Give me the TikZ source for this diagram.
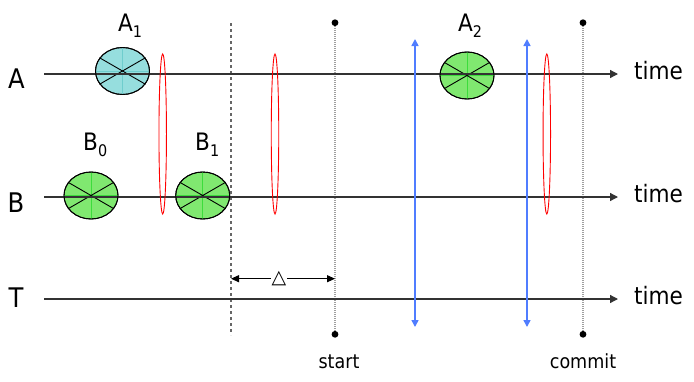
\documentclass[tikz,border=0pt]{standalone}
\usepackage{fontspec}
\setmainfont{DejaVu Sans Condensed}
\newfontfamily\symbfont{DejaVu Sans}
\usetikzlibrary{arrows.meta,shapes.geometric}
\definecolor{cyanfill}{RGB}{150,222,222}
\definecolor{cyanline}{RGB}{110,205,205}
\definecolor{greenfill}{RGB}{128,232,112}
\definecolor{greenline}{RGB}{60,220,60}
\definecolor{bluearr}{RGB}{80,125,255}
\newcommand{\evsub}[1]{\raisebox{-6.5pt}{\fontsize{16}{18}\selectfont #1}}
\begin{document}
\begin{tikzpicture}[x=1pt,y=-1pt,
  tl/.style={draw=black!80, line width=1.3pt, -{Triangle[length=8pt,width=8pt]}},
  biglab/.style={inner sep=0pt, font=\fontsize{27}{30}\selectfont},
  sublab/.style={inner sep=0pt, anchor=base west, font=\fontsize{24}{28}\selectfont},
  timelab/.style={inner sep=0pt, anchor=base west, font=\fontsize{24}{28}\selectfont},
  smalllab/.style={inner sep=0pt, anchor=base, font=\fontsize{19.5}{22}\selectfont},
  evA/.style={ellipse, draw=black, line width=0.9pt, fill=cyanfill, minimum width=54pt, minimum height=47pt, inner sep=0pt},
  evB/.style={ellipse, draw=black, line width=0.9pt, fill=greenfill, minimum width=54pt, minimum height=47pt, inner sep=0pt},
  redring/.style={ellipse, draw=red, line width=0.9pt, minimum width=7.5pt, minimum height=160pt, inner sep=0pt},
  dotnode/.style={circle, fill=black, minimum size=6.8pt, inner sep=0pt},
  dottedline/.style={draw=gray!75, line width=1.2pt, dash pattern=on 1pt off 1pt},
  dashline/.style={draw=black!60, line width=1.3pt, dash pattern=on 3pt off 3pt},
  bluearrow/.style={draw=bluearr, line width=1.6pt, {Triangle[length=7pt,width=7pt]}-{Triangle[length=7pt,width=7pt]}},
  deltaarrow/.style={draw=black, line width=1.1pt, {Triangle[length=8pt,width=7pt]}-{Triangle[length=8pt,width=7pt]}}
]
\useasboundingbox (0,0) rectangle (694,381);

% timelines
\coordinate (As) at (44,74);   \coordinate (Ae) at (618,74);
\coordinate (Bs) at (44,197);  \coordinate (Be) at (618,197);
\coordinate (Ts) at (44,299);  \coordinate (Te) at (618,299);

% vertical reference lines (behind)
\coordinate (dashtop) at (231,23);
\coordinate (dashbot) at (231,335);
\draw[dashline] (dashtop) -- (dashbot);

\node[dotnode] (st1) at (335,22.7) {};
\node[dotnode] (st2) at (335,334.3) {};
\node[dotnode] (cm1) at (583,22.7) {};
\node[dotnode] (cm2) at (583,334.3) {};
\draw[dottedline] (st1) -- (st2);
\draw[dottedline] (cm1) -- (cm2);

% events (under timelines)
\node[evA] (A1) at (122.5,71) {};
\node[evB] (B0) at (91,195.5) {};
\node[evB] (B1) at (202.7,195.5) {};
\node[evB] (A2) at (467,75.5) {};
\foreach \n/\c in {A1/cyanline,B0/greenline,B1/greenline,A2/greenline}{
  \draw[\c, line width=1pt] (\n.north) -- (\n.south);
  \draw[\c, line width=1pt] (\n.west) -- (\n.east);
  \draw[black, line width=0.9pt] (\n.150) -- (\n.330);
  \draw[black, line width=0.9pt] (\n.30) -- (\n.210);
}

\draw[tl] (As) -- (Ae);
\draw[tl] (Bs) -- (Be);
\draw[tl] (Ts) -- (Te);

% redraw outlines on top of timeline
\foreach \n in {A1,B0,B1,A2}{
  \draw[black, line width=0.9pt] (\n.center) ellipse (27pt and 23.5pt);
}

% row labels
\node[biglab] (lA) at (16.5,79) {A};
\node[biglab] (lB) at (16,203) {B};
\node[biglab] (lT) at (16,297.5) {T};

\node[timelab] (tA) at (634,79.5) {time};
\node[timelab] (tB) at (634,202.5) {time};
\node[timelab] (tT) at (634,304.5) {time};

% event labels
\node[sublab] (lA1) at (118,31) {A\evsub{1}};
\node[sublab] (lB0) at (83,150) {B\evsub{0}};
\node[sublab] (lB1) at (195,150) {B\evsub{1}};
\node[sublab] (lA2) at (458,31) {A\evsub{2}};

% red rings
\node[redring] (r1) at (162.7,134) {};
\node[redring] (r2) at (275,134) {};
\node[redring] (r3) at (546.8,134) {};

% blue arrows
\coordinate (u1) at (415,39); \coordinate (d1) at (415,327);
\coordinate (u2) at (527,39); \coordinate (d2) at (527,327);
\draw[bluearrow] (u1) -- (d1);
\draw[bluearrow] (u2) -- (d2);

% delta arrow
\coordinate (dl) at (231,278.7);
\coordinate (dr) at (335,278.7);
\draw[deltaarrow] (dl) -- (dr);
\node[fill=white, inner sep=0.5pt, font=\symbfont\fontsize{19}{20}\selectfont] (delta) at (279,278.5) {△};

% start / commit
\node[smalllab] (start) at (339,368) {start};
\node[smalllab] (commit) at (583,368) {commit};
\end{tikzpicture}
\end{document}
